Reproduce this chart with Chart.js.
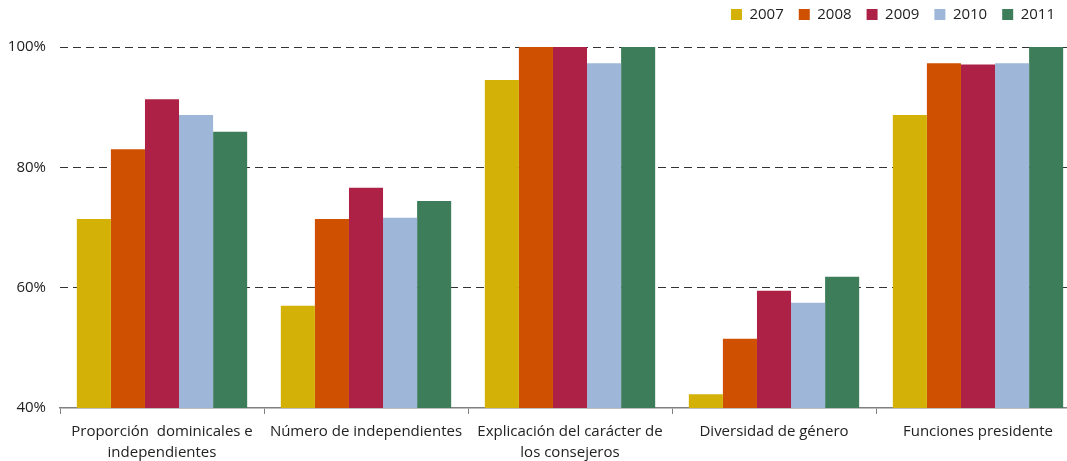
<!DOCTYPE html>
<html>
<head>
<meta charset="utf-8">
<script src="https://cdn.jsdelivr.net/npm/chart.js@4/dist/chart.umd.min.js"></script>
<style>
  html, body { margin: 0; padding: 0; background: #fff; overflow: hidden; }
  #wrap { width: 1080px; height: 461px; position: relative; }
</style>
</head>
<body>
<div id="wrap"><canvas id="chart"></canvas></div>
<script>
const categories = [
  ['Proporción  dominicales e', 'independientes'],
  'Número de independientes',
  ['Explicación del carácter de', 'los consejeros'],
  'Diversidad de género',
  'Funciones presidente'
];
const years = ['2007', '2008', '2009', '2010', '2011'];
const v2007 = [71.4, 57.0, 94.5, 42.3, 88.7];
const v2008 = [83.0, 71.4, 100, 51.5, 97.3];
const v2009 = [91.3, 76.6, 100, 59.5, 97.1];
const v2010 = [88.7, 71.6, 97.3, 57.5, 97.3];
const v2011 = [85.9, 74.4, 100, 61.8, 100];
const yTicks = [40, 60, 80, 100];
const colors = ['#d3b107', '#ce5000', '#ae2146', '#9eb6d7', '#3e7d59'];

const font = "'Open Sans', sans-serif";
Chart.defaults.font.family = font;
Chart.defaults.color = '#222';

// nudge the legend up/left so it sits where the original puts it
const legendShift = {
  id: 'legendShift',
  afterLayout(chart) {
    const lg = chart.legend;
    lg.top -= 15;
    lg.left -= 10;
    lg.right -= 10;
  }
};

new Chart(document.getElementById('chart'), {
  type: 'bar',
  data: {
    labels: categories,
    datasets: [v2007, v2008, v2009, v2010, v2011].map((d, i) => ({
      label: years[i],
      data: d,
      backgroundColor: colors[i],
      borderWidth: 0,
      categoryPercentage: 0.835,
      barPercentage: 1.0,
    })),
  },
  options: {
    responsive: true,
    maintainAspectRatio: false,
    animation: false,
    layout: { padding: { top: 7, right: 0, bottom: 0, left: 0 } },
    plugins: {
      legend: {
        position: 'top',
        align: 'end',
        labels: { boxWidth: 11, boxHeight: 11, padding: 15, color: '#222', font: { size: 15 } },
      },
      tooltip: { enabled: false },
    },
    scales: {
      x: {
        grid: { offset: true, drawOnChartArea: false, drawTicks: true, tickLength: 6, color: '#808080', lineWidth: 1 },
        border: { display: true, color: '#808080', width: 1.5 },
        ticks: { color: '#222', font: { size: 15, lineHeight: 1.35 }, padding: 8, maxRotation: 0, autoSkip: false },
        afterFit: s => { s.height = 53; },
      },
      y: {
        min: 40,
        max: 100,
        afterBuildTicks: s => { s.ticks = yTicks.map(v => ({ value: v })); },
        grid: {
          drawTicks: false,
          color: c => (c.tick && c.tick.value === 40 ? 'rgba(0,0,0,0)' : '#333'),
          lineWidth: 1,
        },
        border: { display: false, dash: [8, 5] },
        ticks: { color: '#222', font: { size: 15 }, padding: 14, callback: v => v + '%' },
        afterFit: s => { s.width = 60; },
      },
    },
  },
  plugins: [legendShift],
});
</script>
</body>
</html>
